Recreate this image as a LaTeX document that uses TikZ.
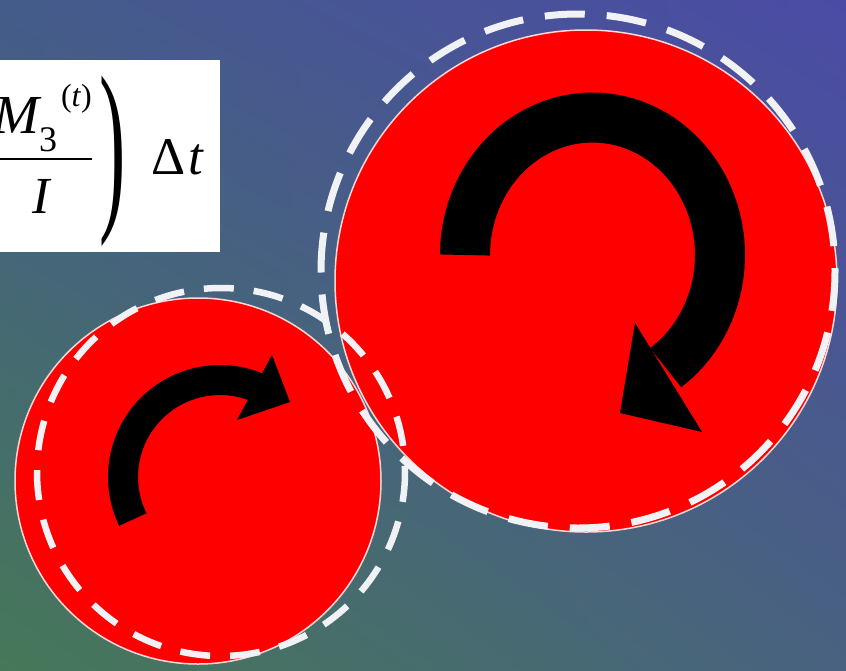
\documentclass[tikz,border=0pt]{standalone}
\usepackage{fontspec}
\setmainfont{Liberation Serif}
\usetikzlibrary{shadings}
\definecolor{bgUL}{RGB}{68,92,138}
\definecolor{bgUR}{RGB}{75,75,165}
\definecolor{bgLL}{RGB}{70,120,88}
\definecolor{bgLR}{RGB}{72,98,128}
\definecolor{discred}{RGB}{255,0,0}
\definecolor{rimpink}{RGB}{255,215,215}
\definecolor{dashwhite}{RGB}{240,242,245}
\tikzset{
  disc/.style={fill=discred, draw=rimpink, line width=1.5pt},
  dashring/.style={draw=dashwhite, line width=7pt},
  txt/.style={inner sep=0pt, outer sep=0pt},
  spin/.style={draw=black, line width=#1},
}
\begin{document}
\begin{tikzpicture}[x=1pt,y=-1pt]
\useasboundingbox (0,0) rectangle (846,670);
\shade[upper left=bgUL, upper right=bgUR, lower left=bgLL, lower right=bgLR] (0,0) rectangle (846,670);

% formula box
\fill[white] (0,60) rectangle (220,252);
\begin{scope}[font=\fontsize{50}{60}\selectfont]
\node[txt, anchor=base east] (M) at (39,133) {\fontsize{55}{60}\selectfont\itshape M};
\node[txt, anchor=base west] (sub) at (39,151) {\fontsize{36}{40}\selectfont 3};
\node[txt, anchor=base west] (sup) at (61,106) {\fontsize{32}{38}\selectfont (\textit{t})};
\draw[line width=2.5pt] (-10,159) -- (92,159);
\node[txt, anchor=base] (den) at (41,213) {\fontsize{52}{60}\selectfont\itshape I};
\node[txt] (paren) at (113,161) {\scalebox{0.42}[1]{\fontsize{188}{190}\selectfont )}};
\node[txt, anchor=base west] (dt) at (151,174) {\fontsize{53}{60}\selectfont Δ\hspace{3pt}\textit{t}};
\end{scope}

% discs
\path[disc] (198,481) circle[radius=183];
\path[disc] (586,281) circle[radius=251];

% dashed rings
\path[dashring, dash pattern=on 40pt off 22pt] (578,271) circle[radius=257];
\path[dashring, line width=6.5pt, dash pattern=on 30pt off 20pt] (221,472) circle[radius=184];

% big arrow
\draw[spin=50pt] plot[domain=180:415, samples=90] ({592.5+127.5*cos(\x)},{255+137.5*sin(\x)});
\coordinate (bh1) at (635,323);
\coordinate (bh2) at (620,413);
\coordinate (bh3) at (702,432);
\fill[black] (bh1) -- (bh2) -- (bh3) -- cycle;

% small arrow
\draw[spin=30pt] plot[domain=154:293, samples=60] ({220+97*cos(\x)},{477+97*sin(\x)});
\coordinate (sh1) at (272,355);
\coordinate (sh2) at (290,402);
\coordinate (sh3) at (237,420);
\fill[black] (sh1) -- (sh2) -- (sh3) -- cycle;
\end{tikzpicture}
\end{document}
